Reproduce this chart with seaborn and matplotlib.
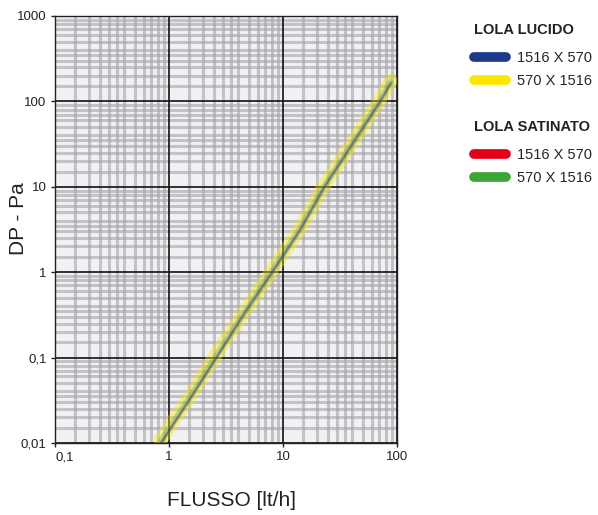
import numpy as np
import pandas as pd
import seaborn as sns
import matplotlib.pyplot as plt
from matplotlib.lines import Line2D
from matplotlib.ticker import FixedLocator, NullFormatter

sns.set_theme(style='ticks')
plt.rcParams['font.family'] = ['Liberation Sans', 'DejaVu Sans']

# values (flow in lt/h, pressure drop in Pa)
flusso = [0.85, 1.5, 2.6, 4.5, 8, 14, 23, 40, 71, 88]
lucido_1516x570 = [0.010, 0.032, 0.10, 0.32, 1.0, 3.1, 10, 31, 100, 165]
lucido_570x1516 = [0.011, 0.034, 0.11, 0.33, 1.05, 3.2, 10.5, 32, 105, 175]
satinato_1516x570 = [0.010, 0.031, 0.10, 0.31, 0.98, 3.0, 9.8, 30, 98, 160]
satinato_570x1516 = [0.0105, 0.033, 0.105, 0.32, 1.02, 3.15, 10.2, 31, 102, 170]

x_ticks = [0.1, 1, 10, 100]
x_labels = ['0,1', '1', '10', '100']
y_ticks = [0.01, 0.1, 1, 10, 100, 1000]
y_labels = ['0,01', '0,1', '1', '10', '100', '1000']

series = {
    'lucido 1516 X 570': lucido_1516x570,
    'lucido 570 X 1516': lucido_570x1516,
    'satinato 1516 X 570': satinato_1516x570,
    'satinato 570 X 1516': satinato_570x1516,
}
df = pd.concat(
    [pd.DataFrame({'flusso': flusso, 'dp': v, 'serie': k}) for k, v in series.items()]
)

colors = {
    'lucido 1516 X 570': '#1b3a8c',
    'lucido 570 X 1516': '#ffe600',
    'satinato 1516 X 570': '#e2001a',
    'satinato 570 X 1516': '#3ca535',
}
# the scanned chart shows the four curves blurred on top of each other
widths = {
    'lucido 1516 X 570': 1.8,
    'lucido 570 X 1516': 10,
    'satinato 1516 X 570': 1.4,
    'satinato 570 X 1516': 4.5,
}
alphas = {
    'lucido 1516 X 570': 0.4,
    'lucido 570 X 1516': 0.38,
    'satinato 1516 X 570': 0.2,
    'satinato 570 X 1516': 0.3,
}

fig = plt.figure(figsize=(5.98, 5.15), dpi=100)
ax = fig.add_axes([0.092, 0.14, 0.572, 0.829])
ax.set_facecolor('#f1f1f3')

order = ['lucido 570 X 1516', 'satinato 570 X 1516',
         'satinato 1516 X 570', 'lucido 1516 X 570']
for name in order:
    sns.lineplot(data=df[df.serie == name], x='flusso', y='dp', ax=ax,
                 color=colors[name], lw=widths[name], alpha=alphas[name],
                 legend=False, zorder=5)

ax.set_xscale('log')
ax.set_yscale('log')
ax.set_xlim(0.1, 100)
ax.set_ylim(0.01, 1000)

subs = [1.5, 2, 2.5, 3, 3.5, 4, 5, 6, 7, 8, 9]
minor_x = [d * s for d in [0.1, 1, 10] for s in subs]
minor_y = [d * s for d in [0.01, 0.1, 1, 10, 100] for s in subs]
ax.xaxis.set_minor_locator(FixedLocator(minor_x))
ax.yaxis.set_minor_locator(FixedLocator(minor_y))
ax.xaxis.set_minor_formatter(NullFormatter())
ax.yaxis.set_minor_formatter(NullFormatter())
ax.grid(which='minor', color='#a4a4aa', lw=2.2, alpha=0.6)
ax.grid(which='major', visible=False)
ax.tick_params(which='minor', length=0)
ax.set_axisbelow(True)
# major grid drawn on top of the grey minor grid
for v in x_ticks:
    ax.axvline(v, color='#111111', lw=1.2, zorder=2)
for v in y_ticks:
    ax.axhline(v, color='#111111', lw=1.2, zorder=2)

ax.set_xticks(x_ticks)
ax.set_xticklabels(x_labels)
ax.set_yticks(y_ticks)
ax.set_yticklabels(y_labels)
ax.tick_params(which='major', length=3, width=1, labelsize=9.5,
               colors='#222222', pad=3)
ax.get_xticklabels()[0].set_horizontalalignment('left')

for s in ax.spines.values():
    s.set_color('#222222')
    s.set_linewidth(1)

ax.set_xlabel('FLUSSO [lt/h]', fontsize=15, color='#222222')
ax.set_ylabel('DP - Pa', fontsize=15, color='#222222')
ax.xaxis.set_label_coords(0.515, -0.113)
ax.yaxis.set_label_coords(-0.078, 0.525)

def legend_handle(name):
    return Line2D([], [], color=colors[name], lw=7, solid_capstyle='round')

leg_kw = dict(frameon=False, loc='upper left', borderpad=0, borderaxespad=0,
              handlelength=2.2, handletextpad=0.75, labelspacing=0.6,
              fontsize=10.5)
fig.text(0.793, 1 - 30 / 515, 'LOLA LUCIDO', fontsize=10.5, fontweight='bold',
         color='#222222', va='center')
fig.legend([legend_handle('lucido 1516 X 570'),
            legend_handle('lucido 570 X 1516')],
           ['1516 X 570', '570 X 1516'],
           bbox_to_anchor=(0.793, 1 - 51 / 515), **leg_kw)
fig.text(0.793, 1 - 127 / 515, 'LOLA SATINATO', fontsize=10.5,
         fontweight='bold', color='#222222', va='center')
fig.legend([legend_handle('satinato 1516 X 570'),
            legend_handle('satinato 570 X 1516')],
           ['1516 X 570', '570 X 1516'],
           bbox_to_anchor=(0.793, 1 - 148 / 515), **leg_kw)

fig.savefig('out.png', dpi=100)
